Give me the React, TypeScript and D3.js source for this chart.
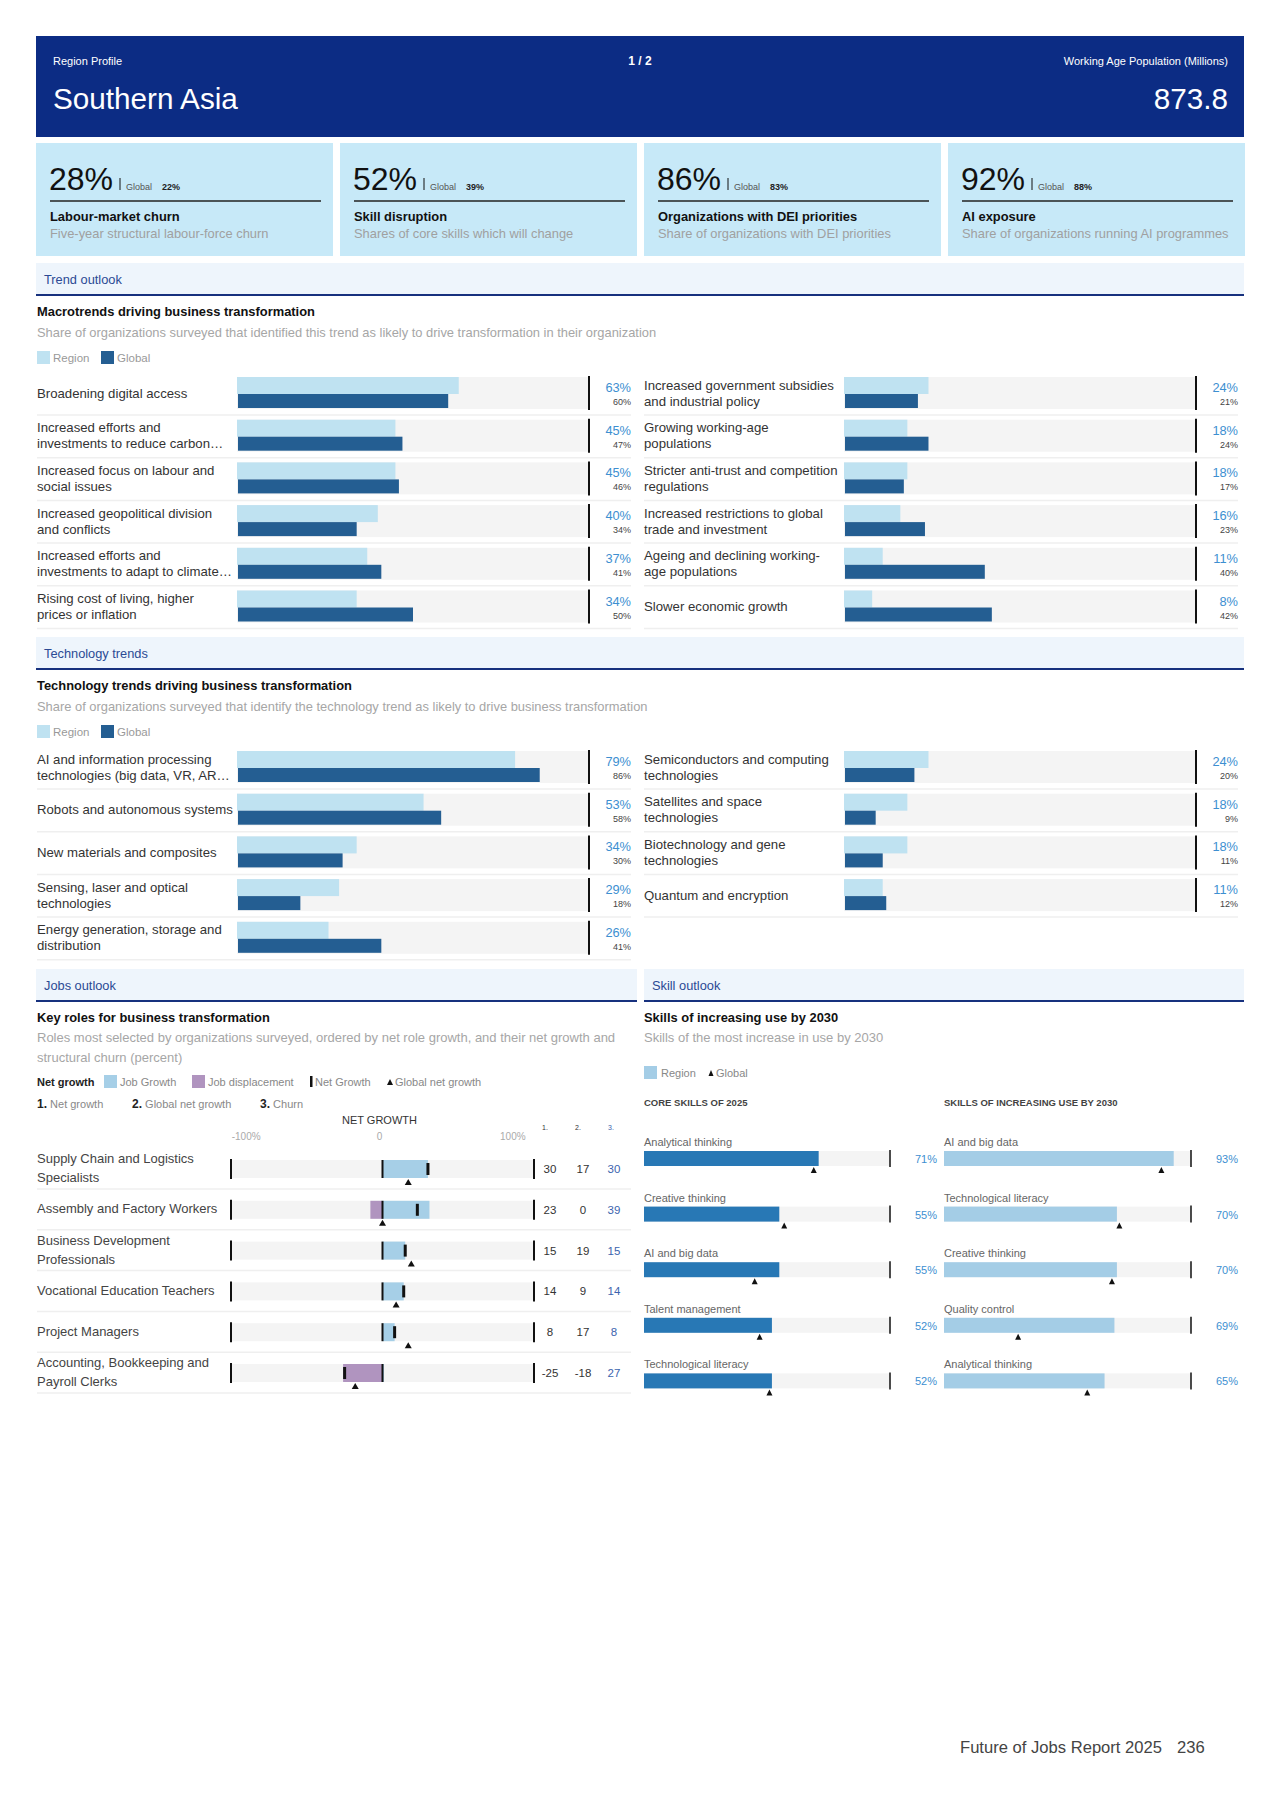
import React from "react";
import * as d3 from "d3";

const FONT = "'Liberation Sans', Arial, Helvetica, sans-serif";

// ---------- DATA ----------
const kpiValues = ["28%", "52%", "86%", "92%"];
const kpiGlobal = ["22%", "39%", "83%", "88%"];
const kpiTitles = ["Labour-market churn", "Skill disruption", "Organizations with DEI priorities", "AI exposure"];
const kpiSubs = [
  "Five-year structural labour-force churn",
  "Shares of core skills which will change",
  "Share of organizations with DEI priorities",
  "Share of organizations running AI programmes",
];

const macroLabels = [
  "Broadening digital access",
  "Increased efforts and|investments to reduce carbon…",
  "Increased focus on labour and|social issues",
  "Increased geopolitical division|and conflicts",
  "Increased efforts and|investments to adapt to climate…",
  "Rising cost of living, higher|prices or inflation",
  "Increased government subsidies|and industrial policy",
  "Growing working-age|populations",
  "Stricter anti-trust and competition|regulations",
  "Increased restrictions to global|trade and investment",
  "Ageing and declining working-|age populations",
  "Slower economic growth",
];
const macroRegion = [63, 45, 45, 40, 37, 34, 24, 18, 18, 16, 11, 8];
const macroGlobal = [60, 47, 46, 34, 41, 50, 21, 24, 17, 23, 40, 42];

const techLabels = [
  "AI and information processing|technologies (big data, VR, AR…",
  "Robots and autonomous systems",
  "New materials and composites",
  "Sensing, laser and optical|technologies",
  "Energy generation, storage and|distribution",
  "Semiconductors and computing|technologies",
  "Satellites and space|technologies",
  "Biotechnology and gene|technologies",
  "Quantum and encryption",
];
const techRegion = [79, 53, 34, 29, 26, 24, 18, 18, 11];
const techGlobal = [86, 58, 30, 18, 41, 20, 9, 11, 12];

const roleLabels = [
  "Supply Chain and Logistics|Specialists",
  "Assembly and Factory Workers",
  "Business Development|Professionals",
  "Vocational Education Teachers",
  "Project Managers",
  "Accounting, Bookkeeping and|Payroll Clerks",
];
const roleGrowth = [30, 31, 15, 14, 8, 1];
const roleDisplacement = [0, 8, 0, 0, 0, 26];
const roleNet = [30, 23, 15, 14, 8, -25];
const roleGlobalNet = [17, 0, 19, 9, 17, -18];
const roleChurn = [30, 39, 15, 14, 8, 27];
const netTicks = [-100, 0, 100];

const coreSkills = ["Analytical thinking", "Creative thinking", "AI and big data", "Talent management", "Technological literacy"];
const coreRegion = [71, 55, 55, 52, 52];
const coreGlobal = [69, 57, 45, 47, 51];
const incSkills = ["AI and big data", "Technological literacy", "Creative thinking", "Quality control", "Analytical thinking"];
const incRegion = [93, 70, 70, 69, 65];
const incGlobal = [88, 71, 68, 30, 58];

// ---------- COLORS ----------
const NAVY = "#0c2c84";
const CARD = "#c7e9f8";
const BAND = "#eef5fc";
const BAND_TEXT = "#2b4a94";
const LIGHT = "#bfe2f1";
const DARK = "#245e92";
const BG = "#f4f4f4";
const VAL = "#3d8fd1";
const GROW = "#a6cfe7";
const DISP = "#b094bf";
const CORE = "#2878b5";
const INC = "#a4cde6";

function MultiLine({ x, cy, text, lh, size, fill, anchor = "start", weight = "normal" }: any) {
  const lines = text.split("|");
  const off = ((lines.length - 1) * lh) / 2;
  return (
    <text x={x} fontSize={size} fill={fill} textAnchor={anchor} fontWeight={weight} fontFamily={FONT}>
      {lines.map((l: string, i: number) => (
        <tspan key={i} x={x} y={cy - off + i * lh + size * 0.35}>
          {l}
        </tspan>
      ))}
    </text>
  );
}

function Band({ x, y, w, label }: any) {
  return (
    <g>
      <rect x={x} y={y} width={w} height={32} fill={BAND} />
      <line x1={x} x2={x + w} y1={y + 32} y2={y + 32} stroke="#17317e" strokeWidth={2} />
      <text x={x + 8} y={y + 21} fontSize={12.8} fill={BAND_TEXT} fontFamily={FONT}>
        {label}
      </text>
    </g>
  );
}

function TrendColumn({ labelX, barX0, barX1, valX, top, labels, region, global }: any) {
  const xs = d3.scaleLinear().domain([0, 100]).range([barX0, barX1]);
  const pitch = 42.7;
  const bh = 32;
  return (
    <g>
      {labels.map((lab: string, i: number) => {
        const y = top + i * pitch;
        return (
          <g key={i}>
            <MultiLine x={labelX} cy={y + bh / 2} text={lab} lh={16} size={13.2} fill="#333" />
            <rect x={xs(0)} y={y} width={xs(100) - xs(0)} height={bh} fill={BG} />
            <rect x={xs(0)} y={y} width={xs(region[i]) - xs(0)} height={17} fill={LIGHT} />
            <rect x={xs(0) + 1} y={y + 17} width={xs(global[i]) - xs(0) - 1} height={14} fill={DARK} />
            <line x1={xs(100)} x2={xs(100)} y1={y - 1} y2={y + bh + 1} stroke="#111" strokeWidth={2} />
            <text x={valX} y={y + 15} textAnchor="end" fontSize={12.8} fill={VAL} fontFamily={FONT}>
              {region[i]}%
            </text>
            <text x={valX} y={y + 28} textAnchor="end" fontSize={9} fill="#444" fontFamily={FONT}>
              {global[i]}%
            </text>
            <line x1={labelX} x2={valX} y1={y + bh + 6} y2={y + bh + 6} stroke="#efefef" strokeWidth={1.5} />
          </g>
        );
      })}
    </g>
  );
}

function TrendSection({ top, band, title, sub, labels, region, global, nLeft }: any) {
  return (
    <g>
      <Band x={36} y={top} w={1208} label={band} />
      <text x={37} y={top + 53} fontSize={12.9} fontWeight="bold" fill="#111" fontFamily={FONT}>
        {title}
      </text>
      <text x={37} y={top + 74} fontSize={12.9} fill="#a6a6a6" fontFamily={FONT}>
        {sub}
      </text>
      <rect x={37} y={top + 88} width={13} height={13} fill={LIGHT} />
      <text x={53} y={top + 99} fontSize={11.5} fill="#999" fontFamily={FONT}>Region</text>
      <rect x={101} y={top + 88} width={13} height={13} fill={DARK} />
      <text x={117} y={top + 99} fontSize={11.5} fill="#999" fontFamily={FONT}>Global</text>
      <TrendColumn
        labelX={37}
        barX0={237}
        barX1={589}
        valX={631}
        top={top + 114}
        labels={labels.slice(0, nLeft)}
        region={region.slice(0, nLeft)}
        global={global.slice(0, nLeft)}
      />
      <TrendColumn
        labelX={644}
        barX0={844}
        barX1={1196}
        valX={1238}
        top={top + 114}
        labels={labels.slice(nLeft)}
        region={region.slice(nLeft)}
        global={global.slice(nLeft)}
      />
    </g>
  );
}

function tri(x: number, y: number, s = 3.5) {
  const p = d3.path();
  p.moveTo(x, y);
  p.lineTo(x - s, y + 6);
  p.lineTo(x + s, y + 6);
  p.closePath();
  return p.toString();
}

function JobsSection({ top }: any) {
  const xs = d3.scaleLinear().domain([-100, 100]).range([231, 534]);
  const rowTop = top + 191;
  const pitch = 40.8;
  const bh = 18;
  const colX = [550, 583, 614];
  return (
    <g>
      <Band x={36} y={top} w={601} label="Jobs outlook" />
      <text x={37} y={top + 53} fontSize={12.9} fontWeight="bold" fill="#111" fontFamily={FONT}>
        Key roles for business transformation
      </text>
      <text x={37} y={top + 73} fontSize={13} fill="#a6a6a6" fontFamily={FONT}>
        Roles most selected by organizations surveyed, ordered by net role growth, and their net growth and
      </text>
      <text x={37} y={top + 93} fontSize={13} fill="#a6a6a6" fontFamily={FONT}>
        structural churn (percent)
      </text>
      {/* legend */}
      <text x={37} y={top + 117} fontSize={11} fontWeight="bold" fill="#222" fontFamily={FONT}>Net growth</text>
      <rect x={104} y={top + 106} width={13} height={13} fill={GROW} />
      <text x={120} y={top + 117} fontSize={11} fill="#888" fontFamily={FONT}>Job Growth</text>
      <rect x={192} y={top + 106} width={13} height={13} fill={DISP} />
      <text x={208} y={top + 117} fontSize={11} fill="#888" fontFamily={FONT}>Job displacement</text>
      <rect x={310} y={top + 107} width={2.5} height={11} fill="#111" />
      <text x={315} y={top + 117} fontSize={11} fill="#888" fontFamily={FONT}>Net Growth</text>
      <path d={tri(390, top + 110, 3)} fill="#111" />
      <text x={395} y={top + 117} fontSize={11} fill="#888" fontFamily={FONT}>Global net growth</text>
      <text x={37} y={top + 139} fontSize={11} fill="#888" fontFamily={FONT}>
        <tspan fontWeight="bold" fill="#222" fontSize={12}>1.</tspan> Net growth
      </text>
      <text x={132} y={top + 139} fontSize={11} fill="#888" fontFamily={FONT}>
        <tspan fontWeight="bold" fill="#222" fontSize={12}>2.</tspan> Global net growth
      </text>
      <text x={260} y={top + 139} fontSize={11} fill="#888" fontFamily={FONT}>
        <tspan fontWeight="bold" fill="#222" fontSize={12}>3.</tspan> Churn
      </text>
      <text x={xs(0) - 3} y={top + 155} textAnchor="middle" fontSize={11} fill="#333" fontFamily={FONT}>NET GROWTH</text>
      {netTicks.map((t) => (
        <text key={t} x={xs(t * 0.88) - 3} y={top + 171} textAnchor="middle" fontSize={10} fill="#aaa" fontFamily={FONT}>
          {t === 0 ? "0" : `${t}%`}
        </text>
      ))}
      {["1.", "2.", "3."].map((h, i) => (
        <text key={h} x={colX[i] - 8 + (i === 2 ? 2 : 0)} y={top + 161} fontSize={7} fill={i === 2 ? "#3c64ae" : "#333"} fontFamily={FONT}>
          {h}
        </text>
      ))}
      {roleLabels.map((lab, i) => {
        const y = rowTop + i * pitch;
        const cy = y + bh / 2;
        return (
          <g key={i}>
            <MultiLine x={37} cy={cy - 1} text={lab} lh={19} size={13} fill="#444" />
            <rect x={xs(-100)} y={y} width={xs(100) - xs(-100)} height={bh} fill={BG} />
            <rect x={xs(0)} y={y} width={xs(roleGrowth[i]) - xs(0)} height={bh} fill={GROW} />
            <rect x={xs(-roleDisplacement[i])} y={y} width={xs(0) - xs(-roleDisplacement[i])} height={bh} fill={DISP} />
            <line x1={xs(-100)} x2={xs(-100)} y1={y - 1} y2={y + bh + 1} stroke="#111" strokeWidth={2} />
            <line x1={xs(100)} x2={xs(100)} y1={y - 1} y2={y + bh + 1} stroke="#111" strokeWidth={2} />
            <line x1={xs(0)} x2={xs(0)} y1={y} y2={y + bh} stroke="#111" strokeWidth={2} />
            <rect x={xs(roleNet[i]) - 1.5} y={y + 3} width={3} height={bh - 6} fill="#111" />
            <path d={tri(xs(roleGlobalNet[i]), y + bh + 1)} fill="#111" />
            {[roleNet[i], roleGlobalNet[i], roleChurn[i]].map((v, j) => (
              <text key={j} x={colX[j]} y={cy + 4} textAnchor="middle" fontSize={11.5} fill={j === 2 ? "#3c64ae" : "#333"} fontFamily={FONT}>
                {v}
              </text>
            ))}
            <line x1={37} x2={631} y1={y + bh + 11} y2={y + bh + 11} stroke="#efefef" strokeWidth={1.5} />
          </g>
        );
      })}
    </g>
  );
}

function SkillColumn({ x0, x1, valX, top, header, labels, region, global, color }: any) {
  const xs = d3.scaleLinear().domain([0, 100]).range([x0, x1]);
  const pitch = 55.6;
  const bh = 15;
  return (
    <g>
      <text x={x0} y={top} fontSize={9.5} fill="#222" fontFamily={FONT} fontWeight="bold" opacity={0.85}>
        {header}
      </text>
      {labels.map((lab: string, i: number) => {
        const ly = top + 40 + i * pitch;
        const y = ly + 5;
        return (
          <g key={i}>
            <text x={x0} y={ly} fontSize={11} fill="#666" fontFamily={FONT}>{lab}</text>
            <rect x={xs(0)} y={y} width={xs(100) - xs(0)} height={bh} fill={BG} />
            <rect x={xs(0)} y={y} width={xs(region[i]) - xs(0)} height={bh} fill={color} />
            <line x1={xs(100)} x2={xs(100)} y1={y - 1} y2={y + bh + 1} stroke="#111" strokeWidth={1.5} />
            <text x={valX} y={y + 12} textAnchor="end" fontSize={11} fill={VAL} fontFamily={FONT}>
              {region[i]}%
            </text>
            <path d={tri(xs(global[i]), y + bh + 1, 3)} fill="#111" />
          </g>
        );
      })}
    </g>
  );
}

function SkillsSection({ top }: any) {
  return (
    <g>
      <Band x={644} y={top} w={600} label="Skill outlook" />
      <text x={644} y={top + 53} fontSize={12.9} fontWeight="bold" fill="#111" fontFamily={FONT}>
        Skills of increasing use by 2030
      </text>
      <text x={644} y={top + 73} fontSize={13} fill="#a6a6a6" fontFamily={FONT}>
        Skills of the most increase in use by 2030
      </text>
      <rect x={644} y={top + 97} width={13} height={13} fill={INC} />
      <text x={661} y={top + 108} fontSize={11} fill="#888" fontFamily={FONT}>Region</text>
      <path d={tri(711, top + 101, 2.5)} fill="#111" />
      <text x={716} y={top + 108} fontSize={11} fill="#888" fontFamily={FONT}>Global</text>
      <SkillColumn x0={644} x1={890} valX={937} top={top + 137} header="CORE SKILLS OF 2025"
        labels={coreSkills} region={coreRegion} global={coreGlobal} color={CORE} />
      <SkillColumn x0={944} x1={1191} valX={1238} top={top + 137} header="SKILLS OF INCREASING USE BY 2030"
        labels={incSkills} region={incRegion} global={incGlobal} color={INC} />
    </g>
  );
}

export default function App() {
  const cardX = [36, 340, 644, 948];
  return (
    <svg width={1280} height={1809} style={{ position: "absolute", left: 0, top: 0, background: "#fff" }} fontFamily={FONT}>
      {/* header */}
      <rect x={36} y={36} width={1208} height={101} fill={NAVY} />
      <text x={53} y={65} fontSize={11} fill="#fff" fontFamily={FONT}>Region Profile</text>
      <text x={640} y={65} fontSize={12} fill="#fff" fontWeight="bold" textAnchor="middle" fontFamily={FONT}>1 / 2</text>
      <text x={1228} y={65} fontSize={11} fill="#fff" textAnchor="end" fontFamily={FONT}>Working Age Population (Millions)</text>
      <text x={53} y={109} fontSize={29.7} fill="#fff" fontFamily={FONT}>Southern Asia</text>
      <text x={1228} y={109} fontSize={29.7} fill="#fff" textAnchor="end" fontFamily={FONT}>873.8</text>

      {/* KPI cards */}
      {cardX.map((cx, i) => (
        <g key={i}>
          <rect x={cx} y={143} width={297} height={113} fill={CARD} />
          <text x={cx + 13} y={190} fontSize={32} fill="#111" fontFamily={FONT}>{kpiValues[i]}</text>
          <line x1={cx + 84} x2={cx + 84} y1={178} y2={190} stroke="#111" strokeWidth={1} />
          <text x={cx + 90} y={190} fontSize={9} fill="#555" fontFamily={FONT}>Global</text>
          <text x={cx + 126} y={190} fontSize={9} fill="#222" fontWeight="bold" fontFamily={FONT}>{kpiGlobal[i]}</text>
          <line x1={cx + 14} x2={cx + 285} y1={201} y2={201} stroke="#222" strokeWidth={1.5} />
          <text x={cx + 14} y={221} fontSize={12.9} fontWeight="bold" fill="#111" fontFamily={FONT}>{kpiTitles[i]}</text>
          <text x={cx + 14} y={238} fontSize={12.9} fill="#a0a0a0" fontFamily={FONT}>{kpiSubs[i]}</text>
        </g>
      ))}

      <TrendSection
        top={263}
        band="Trend outlook"
        title="Macrotrends driving business transformation"
        sub="Share of organizations surveyed that identified this trend as likely to drive transformation in their organization"
        labels={macroLabels}
        region={macroRegion}
        global={macroGlobal}
        nLeft={6}
      />
      <TrendSection
        top={637}
        band="Technology trends"
        title="Technology trends driving business transformation"
        sub="Share of organizations surveyed that identify the technology trend as likely to drive business transformation"
        labels={techLabels}
        region={techRegion}
        global={techGlobal}
        nLeft={5}
      />
      <JobsSection top={969} />
      <SkillsSection top={969} />

      <text x={960} y={1753} fontSize={16.6} fill="#444" fontFamily={FONT}>Future of Jobs Report 2025</text>
      <text x={1177} y={1753} fontSize={16.6} fill="#444" fontFamily={FONT}>236</text>
    </svg>
  );
}
